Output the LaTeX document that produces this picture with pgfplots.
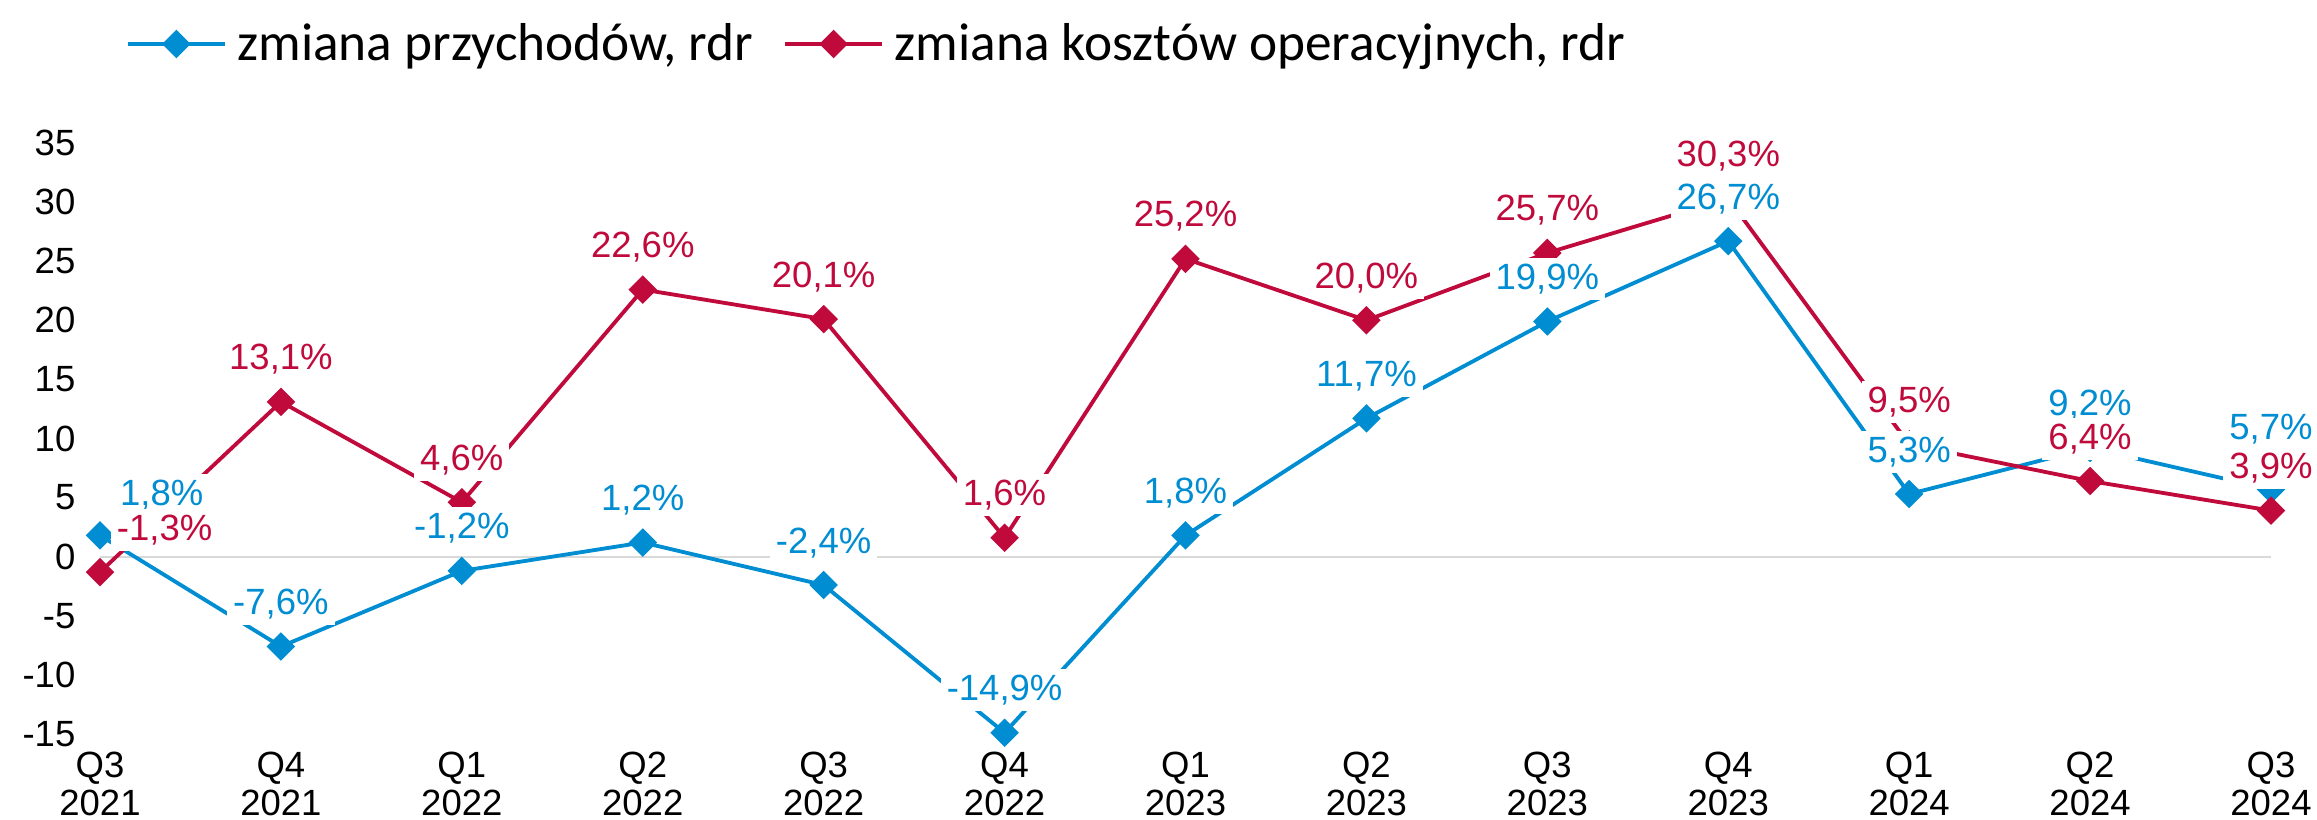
\documentclass[border=0pt]{standalone}
\usepackage{fontspec}
\setmainfont{Liberation Sans}
\newfontfamily\legfont{Carlito}
\usepackage{pgfplots}
\pgfplotsset{compat=1.18}
\usepackage{pgfplotstable}
\definecolor{cblue}{RGB}{0,141,210}
\definecolor{cred}{RGB}{192,10,60}
\definecolor{cgrid}{RGB}{217,217,217}

\pgfplotstableread{
x y lab dx dy
0 1.8 1,8 18.5 9.0
1 -7.6 -7,6 0 9.6
2 -1.2 -1,2 0 9.6
3 1.2 1,2 0 9.6
4 -2.4 -2,4 0 9.6
5 -14.9 -14,9 0 9.6
6 1.8 1,8 0 9.6
7 11.7 11,7 0 9.6
8 19.9 19,9 0 9.6
9 26.7 26,7 0 9.6
10 5.3 5,3 0 9.6
11 9.2 9,2 0 9.6
12 5.7 5,7 0 15.0
}\bluetab

\pgfplotstableread{
x y lab dx dy
0 -1.3 -1,3 19.4 9.6
1 13.1 13,1 0 9.6
2 4.6 4,6 0 9.6
3 22.6 22,6 0 9.6
4 20.1 20,1 0 9.6
5 1.6 1,6 0 9.6
6 25.2 25,2 0 9.6
7 20.0 20,0 0 9.6
8 25.7 25,7 0 9.6
9 30.3 30,3 0 9.6
10 9.5 9,5 0 9.6
11 6.4 6,4 0 9.6
12 3.9 3,9 0 9.6
}\redtab

\pgfplotsset{
  lbl/.style={
    draw=none, mark=none, forget plot,
    point meta=explicit symbolic,
    nodes near coords={\pgfplotspointmeta\%},
    visualization depends on={\thisrow{dx} \as \dx},
    visualization depends on={\thisrow{dy} \as \dy},
    every node near coord/.append style={
      font=\fontsize{10.95}{12.9}\selectfont,
      text=#1, fill=white, inner sep=1.8pt,
      anchor=base, yshift=\dy pt, xshift=\dx pt},
  },
  ser/.style={#1, line width=1.15pt, mark=square*, mark size=2.45pt, mark options={rotate=45}},
}

\begin{document}
\begin{tikzpicture}
\begin{axis}[
  scale only axis,
  width=651.3pt, height=177.3pt,
  xmin=0, xmax=12, ymin=-15, ymax=35,
  clip=false,
  axis line style={draw=none},
  major tick length=0pt,
  xtick={0,...,12},
  xticklabels={{Q3\\2021},{Q4\\2021},{Q1\\2022},{Q2\\2022},{Q3\\2022},{Q4\\2022},{Q1\\2023},{Q2\\2023},{Q3\\2023},{Q4\\2023},{Q1\\2024},{Q2\\2024},{Q3\\2024}},
  ytick={-15,-10,...,35},
  yticklabels={-15,-10,-5,0,5,10,15,20,25,30,35},
  tick label style={font=\fontsize{10.95}{11.2}\selectfont, inner sep=0pt},
  yticklabel style={xshift=-7.2pt},
  xticklabel style={align=center, anchor=north, yshift=-5.3pt},
  legend style={at={(0.012,1.1675)}, anchor=west, draw=none, fill=none,
    inner sep=0pt, outer sep=0pt, legend columns=2,
    font=\legfont\fontsize{16}{19}\selectfont,
    nodes={inner sep=0pt},
    /tikz/every odd column/.append style={column sep=3.3pt},
    /tikz/every even column/.append style={column sep=9pt}},
  legend image code/.code={\draw[mark repeat=2,mark phase=2,#1] plot coordinates {(0pt,0pt) (14.5pt,0pt) (29pt,0pt)};},
]
\draw[cgrid, line width=0.6pt] (axis cs:0,0) -- (axis cs:12,0);
\addplot[ser=cblue] table[x=x, y=y] {\bluetab};
\addlegendentry{zmiana przychodów, rdr}
\addplot[ser=cred] table[x=x, y=y] {\redtab};
\addlegendentry{zmiana kosztów operacyjnych, rdr}
\addplot[lbl=cblue] table[x=x, y=y, meta=lab] {\bluetab};
\addplot[lbl=cred] table[x=x, y=y, meta=lab] {\redtab};
\coordinate (bbl) at (axis description cs:-0.046062,-0.145516);
\coordinate (btr) at (axis description cs:1.021189,1.241963);
\end{axis}
\pgfresetboundingbox
\path[use as bounding box] (bbl) rectangle (btr);
\end{tikzpicture}
\end{document}
